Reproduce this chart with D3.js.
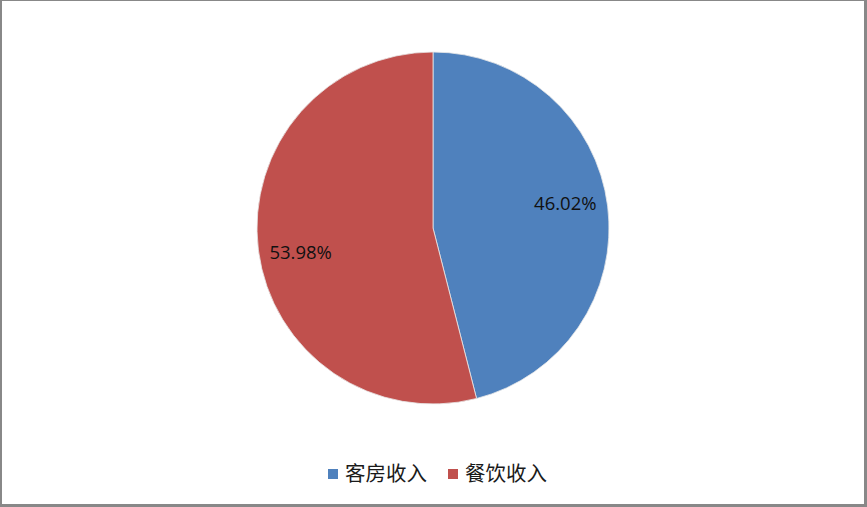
<!DOCTYPE html>
<html>
<head>
<meta charset="utf-8">
<script src="https://cdn.jsdelivr.net/npm/d3@7"></script>
<style>
  html, body { margin: 0; padding: 0; background: #fff; }
  svg { display: block; }
</style>
</head>
<body>
<svg id="chart" width="867" height="507"></svg>
<script>
const categories = ["客房收入", "餐饮收入"];
const values = [46.02, 53.98];
const labels = ["46.02%", "53.98%"];
const colors = ["#4F81BD", "#C0504D"];

const W = 867, H = 507;
const svg = d3.select("#chart");

// frame
svg.append("rect").attr("x", 0).attr("y", 0).attr("width", W).attr("height", H).attr("fill", "#888");
svg.append("rect").attr("x", 2).attr("y", 1).attr("width", W - 5).attr("height", H - 4).attr("fill", "#fff");

const cx = 433, cy = 228, r = 176;
const g = svg.append("g").attr("transform", `translate(${cx},${cy})`);

const pie = d3.pie().sort(null).value(d => d)(values);
const arc = d3.arc().innerRadius(0).outerRadius(r);
const lr = r * 0.765, angOff = -0.06;

g.selectAll("path.slice").data(pie).enter().append("path")
  .attr("class", "slice")
  .attr("d", arc)
  .attr("fill", (d, i) => colors[i])
  .attr("stroke", "#e8e8e8")
  .attr("stroke-width", 0.8);

g.selectAll("text.lbl").data(pie).enter().append("text")
  .attr("class", "lbl")
  .attr("transform", d => {
    const a = (d.startAngle + d.endAngle) / 2 + angOff;
    return `translate(${lr * Math.sin(a)},${-lr * Math.cos(a)})`;
  })
  .attr("text-anchor", "middle")
  .attr("dy", "0.35em")
  .attr("font-family", "'Open Sans', 'Noto Sans', sans-serif")
  .attr("font-size", 18.5)
  .attr("fill", "#111")
  .text((d, i) => labels[i]);

// legend
const legendX = [328, 448];
const lg = svg.append("g");
categories.forEach((c, i) => {
  lg.append("rect").attr("x", legendX[i]).attr("y", 469).attr("width", 10).attr("height", 10).attr("fill", colors[i]);
  lg.append("text").attr("x", legendX[i] + 17).attr("y", 481)
    .attr("font-family", "'Noto Sans CJK SC', sans-serif")
    .attr("font-size", 20.5)
    .attr("fill", "#1a1a1a")
    .text(c);
});
</script>
</body>
</html>
